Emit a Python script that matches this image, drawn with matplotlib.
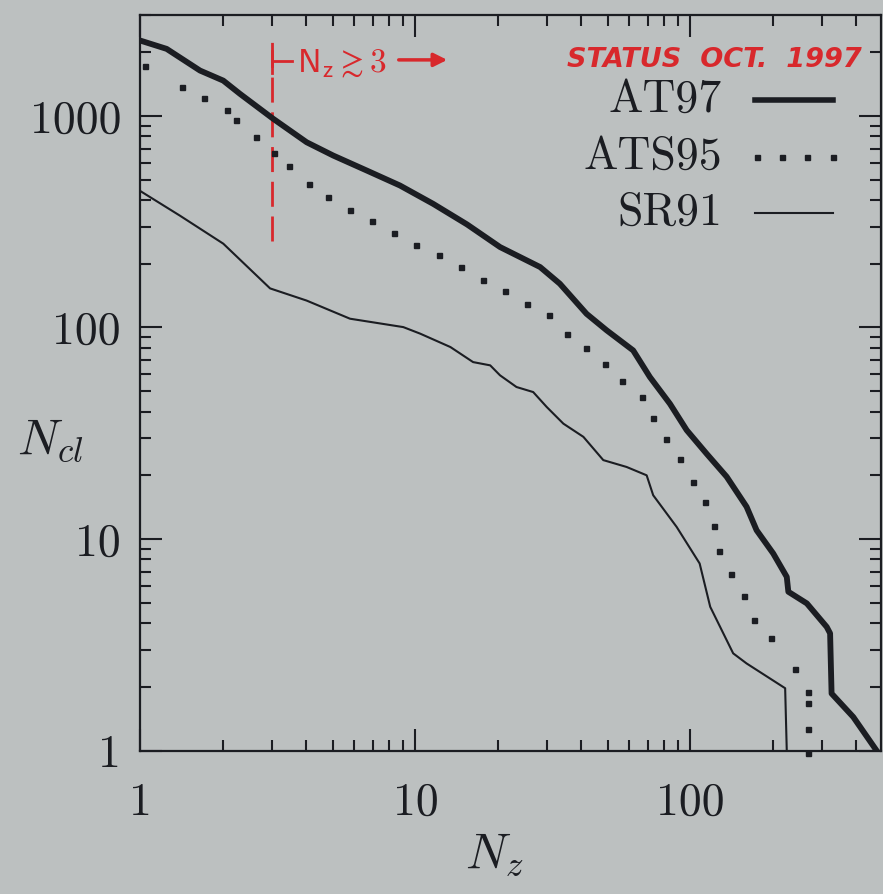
import matplotlib.pyplot as plt
import matplotlib.ticker as mticker

# cumulative cluster counts N_cl vs. redshift multiplicity N_z
# AT97 - thick solid
at97_nz = [1.0, 1.245, 1.646, 2.0, 2.30, 3.04, 4.02, 5.02, 6.65, 8.78, 11.6, 15.4,
           20.3, 28.4, 33.5, 41.9, 49.6, 61.9, 71.2, 84.2, 96.9, 114.5, 135.4, 160,
           174, 200, 224, 227, 265, 313, 322, 326, 391, 475]
at97_ncl = [2270, 2075, 1639, 1469, 1272, 969, 751, 650, 552, 469, 384, 307,
            240, 193, 161, 116, 96.9, 77.9, 58.3, 43.6, 32.7, 25.3, 19.7, 14.2,
            11.0, 8.54, 6.62, 5.63, 4.96, 3.84, 3.58, 1.86, 1.44, 1.0]

# ATS95 - dotted (individual dots)
ats95_nz = [1.04, 1.41, 1.70, 2.06, 2.23, 2.62, 3.06, 3.47, 4.09, 4.81, 5.78, 6.96,
            8.35, 10.04, 12.2, 14.6, 17.6, 21.2, 25.4, 30.5, 35.5, 41.6, 48.8, 56.5,
            66.5, 73.1, 81.2, 91.6, 102, 113, 122, 127, 140, 157, 170, 196, 241,
            268, 268, 268, 268]
ats95_ncl = [1717, 1366, 1212, 1069, 962, 793, 666, 579, 478, 416, 360, 320,
             280, 246, 221, 194, 168, 149, 129, 114, 93.6, 79.9, 67.2, 55.7,
             47.1, 37.3, 29.7, 24.0, 18.6, 15.0, 11.5, 8.79, 6.82, 5.38, 4.13, 3.39, 2.43,
             1.90, 1.68, 1.26, 0.97]

# SR91 - thin solid
sr91_nz = [1.0, 1.39, 2.0, 2.96, 4.02, 5.78, 9.03, 10.4, 13.4, 16.2, 18.7, 20.3,
           23.3, 26.8, 30.0, 34.5, 40.8, 48.2, 58.6, 69.3, 73.2, 89.1, 108, 118,
           143, 160, 221, 224]
sr91_ncl = [441, 338, 249, 153, 134, 110, 100.4, 93.5, 80.8, 68.6, 66.2, 59.4,
            52.3, 49.5, 42.1, 35.1, 30.4, 23.6, 21.9, 20.0, 16.1, 11.4, 7.66, 4.78,
            2.88, 2.58, 1.97, 1.0]

labels = ['AT97', 'ATS95', 'SR91']
x_ticks = [1, 10, 100]
y_ticks = [1, 10, 100, 1000]

# Nz >= 3 cut marker
cut_nz = 3
cut_ncl = [257, 2260]

paper = '#bcc0c0'
ink = '#1b1d22'
red = '#d8282c'

plt.rcParams['font.family'] = 'cmr10'
plt.rcParams['mathtext.fontset'] = 'cm'
plt.rcParams['axes.formatter.use_mathtext'] = True

fig = plt.figure(figsize=(8.83, 8.94), dpi=100, facecolor=paper)
ax = fig.add_axes([0.1591, 0.1605, 0.8386, 0.8227], facecolor=paper)

ax.plot(at97_nz, at97_ncl, color=ink, lw=4.2, solid_joinstyle='round', zorder=3)
ax.plot(ats95_nz, ats95_ncl, ls='none', marker='s', ms=3.6, color=ink,
        clip_on=False, zorder=3)
ax.plot(sr91_nz, sr91_ncl, color=ink, lw=1.5, zorder=3)

ax.set_xscale('log')
ax.set_yscale('log')
ax.set_xlim(1, 493)
ax.set_ylim(1, 3000)

for sp in ax.spines.values():
    sp.set_linewidth(1.6)
    sp.set_color(ink)

ax.xaxis.set_major_locator(mticker.FixedLocator(x_ticks))
ax.yaxis.set_major_locator(mticker.FixedLocator(y_ticks))
fmt = mticker.FuncFormatter(lambda v, p: '%d' % round(v))
ax.xaxis.set_major_formatter(fmt)
ax.yaxis.set_major_formatter(fmt)
ax.xaxis.set_minor_formatter(mticker.NullFormatter())
ax.yaxis.set_minor_formatter(mticker.NullFormatter())

ax.tick_params(which='both', direction='in', top=True, right=True,
               color=ink, width=1.5, labelcolor=ink, labelsize=33)
ax.tick_params(which='major', length=16)
ax.tick_params(which='minor', length=8)
ax.tick_params(axis='x', pad=23)
ax.tick_params(axis='y', pad=14)

ax.text(0.478, -0.142, r'$N_z$', transform=ax.transAxes, fontsize=36,
        ha='center', va='center', color=ink)
ax.text(-0.122, 0.422, r'$N_{cl}$', transform=ax.transAxes, fontsize=36,
        ha='center', va='center', color=ink)

# legend, drawn by hand: right-aligned names, sample to the right
leg_y = [0.885, 0.8075, 0.731]
tr = ax.transAxes
for lab, yy in zip(labels, leg_y):
    ax.text(0.785, yy, lab, transform=tr, fontsize=33, ha='right',
            va='center', color=ink)
ax.plot([0.83, 0.935], [leg_y[0]] * 2, transform=tr, color=ink, lw=4)
ax.plot([0.832, 0.866, 0.9, 0.935], [leg_y[1]] * 4, transform=tr, ls='none',
        marker='s', ms=3.6, color=ink)
ax.plot([0.83, 0.935], [leg_y[2]] * 2, transform=tr, color=ink, lw=1.5)

# red handwritten notes
ax.plot([cut_nz, cut_nz], cut_ncl, color=red, lw=2, ls=(0, (9, 3.5)), zorder=2)
ax.plot([cut_nz, cut_nz], [1603, 2037], color=red, lw=2)
ax.plot([cut_nz, 3.56], [1827, 1827], color=red, lw=2)
ax.text(0.211, 0.934, r'$\mathsf{N_z \gtrsim 3}$', transform=tr, fontsize=24,
        color=red, ha='left', va='center')
ax.annotate('', xy=(0.418, 0.939), xytext=(0.345, 0.939), xycoords=tr,
            arrowprops=dict(arrowstyle='-|>', color=red, lw=2.5,
                            mutation_scale=20))
ax.text(0.974, 0.939, 'STATUS  OCT.  1997', transform=tr, fontsize=19.5,
        family='DejaVu Sans', style='italic', weight='bold', color=red,
        ha='right', va='center')

plt.savefig('out.png', dpi=100, facecolor=paper)
